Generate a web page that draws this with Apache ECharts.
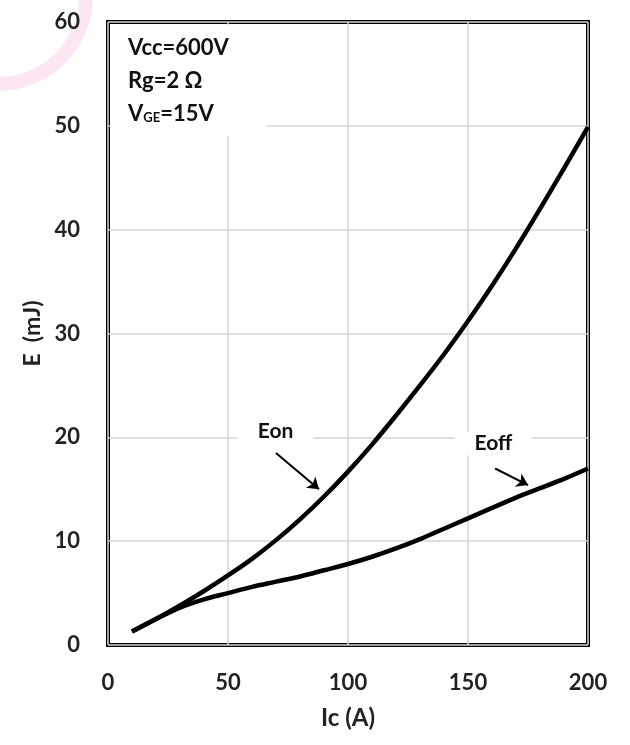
<!DOCTYPE html>
<html>
<head>
<meta charset="utf-8">
<script src="https://cdn.jsdelivr.net/npm/echarts@6/dist/echarts.min.js"></script>
<style>html,body{margin:0;padding:0;background:#fff;}#c{width:630px;height:745px;}</style>
</head>
<body>
<div id="c"></div>
<script>
var ic = [10,20,30,40,50,60,70,80,90,100,110,120,130,140,150,160,170,180,190,200];
var eon = [1.3,2.5,3.8,5.2,6.7,8.3,10.1,12.1,14.3,16.7,19.3,22.1,25.0,28.0,31.2,34.6,38.2,42.0,45.9,49.9];
var eoff = [1.3,2.5,3.6,4.4,5.0,5.6,6.1,6.6,7.2,7.8,8.5,9.3,10.2,11.2,12.2,13.2,14.2,15.1,16.0,17.0];
var xTicks = [0,50,100,150,200];
var yTicks = [0,10,20,30,40,50,60];
var conditions = ['Vcc=600V','Rg=2 \u03a9','V_GE=15V'];
var FONT = 'Lato';

function pairs(xs, ys){ return xs.map(function(x,i){ return [x, ys[i]]; }); }

var chart = echarts.init(document.getElementById('c'), null, {renderer:'canvas'});

function labelMark(text, x, y, w){
  return {coord:[x,y], symbol:'rect', symbolSize:[w,24], itemStyle:{color:'#fff'},
    label:{show:true, position:'inside', formatter:text, color:'#111', fontSize:21, fontWeight:'bold', fontFamily:FONT}};
}
function arrow(x1,y1,x2,y2){
  return [{coord:[x1,y1]},{coord:[x2,y2]}];
}

var option = {
  backgroundColor:'#fff',
  animation:false,
  grid:{left:108, right:42, top:22, bottom:100, show:true, borderColor:'#000', borderWidth:4, backgroundColor:'transparent'},
  xAxis:{type:'value', min:0, max:200, interval:50,
    name:'Ic (A)', nameLocation:'middle', nameGap:61,
    nameTextStyle:{fontSize:24, fontWeight:'bold', color:'#222', fontFamily:FONT},
    axisLine:{show:false}, axisTick:{show:false},
    axisLabel:{margin:27, fontSize:22, fontWeight:'bold', color:'#222', fontFamily:FONT,
      formatter:function(v){ return xTicks.indexOf(v)>=0 ? String(v) : ''; }},
    splitLine:{show:true, lineStyle:{color:'#d4d4d4', width:1.5}}},
  yAxis:{type:'value', min:0, max:60, interval:10,
    name:'E  (mJ)', nameLocation:'middle', nameGap:64, nameRotate:90,
    nameTextStyle:{fontSize:23, fontWeight:'bold', color:'#222', fontFamily:FONT},
    axisLine:{show:false}, axisTick:{show:false},
    axisLabel:{margin:28, fontSize:22, fontWeight:'bold', color:'#222', fontFamily:FONT,
      formatter:function(v){ return yTicks.indexOf(v)>=0 ? String(v) : ''; }},
    splitLine:{show:true, lineStyle:{color:'#d4d4d4', width:1.5}}},
  graphic:[
    {type:'circle', shape:{cx:-2, cy:-4, r:88}, style:{fill:'none', stroke:'#fce6f3', lineWidth:14}, z:0, silent:true},
    {type:'rect', shape:{x:111, y:25, width:155, height:111}, style:{fill:'#fff'}, z:3, silent:true},
    {type:'text', left:128, top:37, z:4, style:{text:conditions[0], font:'bold 22px '+FONT, fill:'#111'}},
    {type:'text', left:128, top:70, z:4, style:{text:conditions[1], font:'bold 22px '+FONT, fill:'#111'}},
    {type:'text', left:128, top:103, z:4, style:{
      text:'{a|V}{s|GE}{a|=15V}',
      rich:{a:{fontSize:22, fontWeight:'bold', fontFamily:FONT, fill:'#111', color:'#111'},
            s:{fontSize:13, fontWeight:'bold', fontFamily:FONT, fill:'#111', color:'#111', padding:[8,0,0,0]}}}}
  ],
  series:[
    {type:'line', name:'Eon', data:pairs(ic, eon), smooth:0.3, showSymbol:false, symbol:'none',
      lineStyle:{color:'#000', width:4.5}, z:5,
      markPoint:{silent:true, data:[labelMark('Eon', 69.8, 20.6, 75)]},
      markLine:{silent:true, symbol:['none','arrow'], symbolSize:11, label:{show:false},
        lineStyle:{color:'#000', width:2, type:'solid'}, data:[arrow(70,18.5,87.9,15.0)]}},
    {type:'line', name:'Eoff', data:pairs(ic, eoff), smooth:0.3, showSymbol:false, symbol:'none',
      lineStyle:{color:'#000', width:4.5}, z:5,
      markPoint:{silent:true, data:[labelMark('Eoff', 160.6, 19.4, 77)]},
      markLine:{silent:true, symbol:['none','arrow'], symbolSize:11, label:{show:false},
        lineStyle:{color:'#000', width:2, type:'solid'}, data:[arrow(161.3,17.0,175,15.4)]}}
  ]
};
chart.setOption(option);
</script>
</body>
</html>
